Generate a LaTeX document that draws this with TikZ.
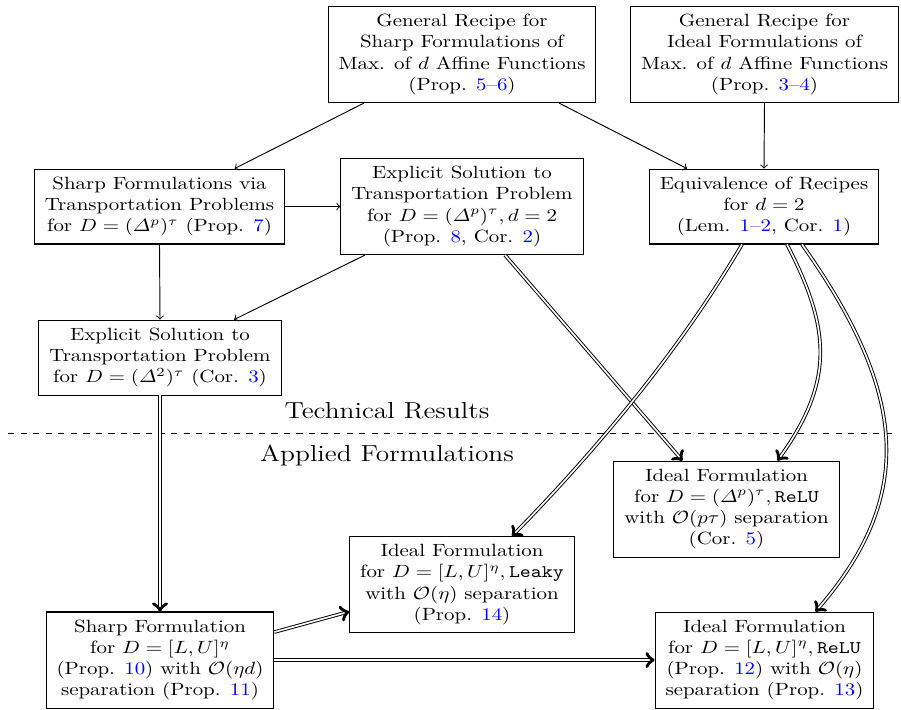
\documentclass[tikz,border=0pt]{standalone}
\usepackage{amsmath}
\usetikzlibrary{calc}
\newcommand{\bluref}[1]{\textcolor{blue}{#1}}
\begin{document}
\begin{tikzpicture}[x=0.4785pt, y=-0.565pt, yscale=0.847, transform shape,
  box/.style={draw, align=center, inner xsep=5pt, inner ysep=4.4pt, line width=0.5pt},
  arr/.style={->, line width=0.45pt},
  darr/.style={->, double, double distance=0.8pt, line width=0.45pt},
  lbl/.style={font=\fontsize{13.1}{15}\selectfont}]
\useasboundingbox (0,0) rectangle (901,709);
% nodes
\node[box] (g1) at (462,54.5) {General Recipe for\\Sharp Formulations of\\Max. of $d$ Affine Functions\\(Prop. \bluref{5--6})};
\node[box] (g2) at (764.5,54.5) {General Recipe for\\Ideal Formulations of\\Max. of $d$ Affine Functions\\(Prop. \bluref{3--4})};
\node[box] (st) at (159.5,206.5) {Sharp Formulations via\\Transportation Problems\\for $D=(\varDelta^p)^\tau$ (Prop. \bluref{7})};
\node[box] (ex) at (462,206.5) {Explicit Solution to\\Transportation Problem\\for $D=(\varDelta^p)^\tau, d=2$\\(Prop. \bluref{8}, Cor. \bluref{2})};
\node[box] (eq) at (764,206.5) {Equivalence of Recipes\\for $d=2$\\(Lem. \bluref{1--2}, Cor. \bluref{1})};
\node[box] (e2) at (160,357.5) {Explicit Solution to\\Transportation Problem\\for $D=(\varDelta^2)^\tau$ (Cor. \bluref{3})};
\node[box] (ip) at (726.5,509) {Ideal Formulation\\for $D=(\varDelta^p)^\tau, \texttt{ReLU}$\\with $\mathcal{O}(p\tau)$ separation\\(Cor. \bluref{5})};
\node[box] (il) at (462,584.5) {Ideal Formulation\\for $D=[L,U]^\eta, \texttt{Leaky}$\\with $\mathcal{O}(\eta)$ separation\\(Prop. \bluref{14})};
\node[box] (sf) at (160,660) {Sharp Formulation\\for $D=[L,U]^\eta$\\(Prop. \bluref{10}) with $\mathcal{O}(\eta d)$\\separation (Prop. \bluref{11})};
\node[box] (ir) at (764.5,660) {Ideal Formulation\\for $D=[L,U]^\eta, \texttt{ReLU}$\\(Prop. \bluref{12}) with $\mathcal{O}(\eta)$\\separation (Prop. \bluref{13})};
% section labels
\node[lbl] (tr) at (387,411) {Technical Results};
\node[lbl] (af) at (387,455) {Applied Formulations};
\coordinate (dl) at (8,433);
\coordinate (dr) at (893,433);
\draw[dashed, line width=0.45pt] (dl) -- (dr);
% single arrows
\draw[arr] ($(g1.south)+(-98,0)$) -- ($(st.north)+(75,0)$);
\draw[arr] ($(g1.south)+(97,0)$) -- ($(eq.north)+(-77,0)$);
\draw[arr] (g2.south) -- (eq.north);
\draw[arr] (st.east) -- (ex.west);
\draw[arr] (st.south) -- (e2.north);
\draw[arr] ($(ex.south)+(-97,0)$) -- ($(e2.north)+(74,0)$);
% double arrows
\draw[darr] ($(ex.south)+(43,0)$) -- ($(ip.north)+(-44,0)$);
\draw[darr] ($(eq.south)+(-22,0)$) .. controls +(-57,97) and +(95,-97) .. ($(il.north)+(50,0)$);
\draw[darr] ($(eq.south)+(23,0)$) .. controls +(43,83) and +(58,-80) .. ($(ip.north)+(51,0)$);
\draw[darr] ($(eq.south)+(38,0)$) .. controls +(105,148) and +(101,-116) .. ($(ir.north)+(51,0)$);
\draw[darr] (e2.south) -- (sf.north);
\draw[darr] ($(sf.east)+(0,-28)$) -- ($(il.west)+(0,27)$);
\draw[darr] (sf.east) -- (ir.west);
\end{tikzpicture}
\end{document}
